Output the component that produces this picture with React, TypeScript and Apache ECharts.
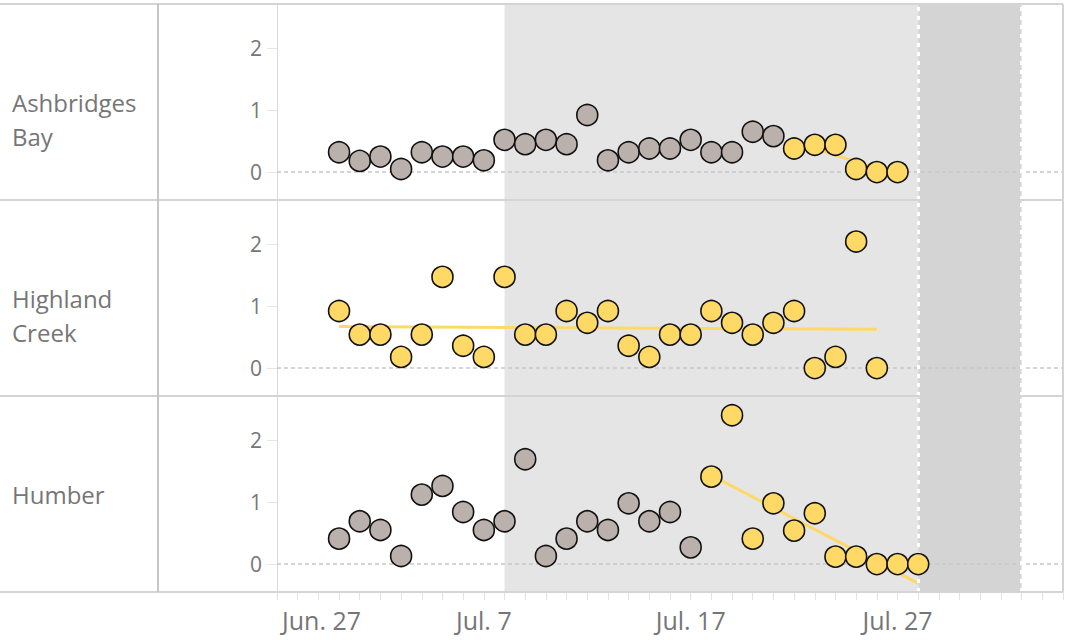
import React, { useEffect, useRef } from "react";
import * as echarts from "echarts";

// ---- data ----
const BASE_DATE = "2019-06-27";
const AXIS_END = "2019-08-04";
const tickDates = ["2019-06-27", "2019-07-07", "2019-07-17", "2019-07-27"];
const tickLabels = ["Jun. 27", "Jul. 7", "Jul. 17", "Jul. 27"];
const yTicks = [0, 1, 2];

const dates = [
  "2019-06-30", "2019-07-01", "2019-07-02", "2019-07-03", "2019-07-04", "2019-07-05",
  "2019-07-06", "2019-07-07", "2019-07-08", "2019-07-09", "2019-07-10", "2019-07-11",
  "2019-07-12", "2019-07-13", "2019-07-14", "2019-07-15", "2019-07-16", "2019-07-17",
  "2019-07-18", "2019-07-19", "2019-07-20", "2019-07-21", "2019-07-22", "2019-07-23",
  "2019-07-24", "2019-07-25", "2019-07-26", "2019-07-27", "2019-07-28",
];

const siteNames = ["Ashbridges\nBay", "Highland\nCreek", "Humber"];

const ashbridgesValues = [
  0.32, 0.18, 0.25, 0.05, 0.32, 0.25, 0.25, 0.19, 0.52, 0.45, 0.52, 0.45, 0.92, 0.19,
  0.32, 0.38, 0.38, 0.52, 0.32, 0.32, 0.65, 0.58, 0.38, 0.44, 0.44, 0.05, 0, 0, null,
];
const highlandValues = [
  0.92, 0.54, 0.54, 0.18, 0.54, 1.47, 0.36, 0.18, 1.47, 0.54, 0.54, 0.92, 0.73, 0.92,
  0.36, 0.18, 0.54, 0.54, 0.92, 0.73, 0.54, 0.73, 0.92, 0, 0.18, 2.04, 0, null, null,
];
const humberValues = [
  0.41, 0.69, 0.55, 0.13, 1.12, 1.26, 0.84, 0.55, 0.69, 1.69, 0.13, 0.41, 0.69, 0.55,
  0.98, 0.69, 0.84, 0.27, 1.41, 2.4, 0.41, 0.98, 0.54, 0.82, 0.12, 0.12, 0, 0, 0,
];

const highlightFrom = ["2019-07-22", "2019-06-30", "2019-07-18"];
const trendTo = ["2019-07-27", "2019-07-26", "2019-07-28"];
const trendStartValues = [0.48, 0.67, 1.43];
const trendEndValues = [-0.04, 0.625, -0.31];

const lightBand = ["2019-07-08", "2019-07-28"];
const darkBand = ["2019-07-28", "2019-08-02"];

// ---- styling / layout ----
const W = 1067;
const H = 640;
const PLOT_LEFT = 277;
const PLOT_RIGHT = 1063;
const PANEL_TOP = 4;
const PANEL_H = 196;
const Y_MIN = -0.45;
const Y_MAX = 2.71;
const GRAY = "#bab0ac";
const YELLOW = "#ffd966";
const BORDER = "#d4d4d4";
const TEXT = "#767676";
const FONT = "'Open Sans', 'Noto Sans', sans-serif";

const day = (s: string) =>
  Math.round((Date.parse(s) - Date.parse(BASE_DATE)) / 86400000);

export default function App() {
  const ref = useRef<HTMLDivElement>(null);

  useEffect(() => {
    if (!ref.current) return;
    const chart = echarts.init(ref.current, undefined, { renderer: "svg" });
    const seriesValues = [ashbridgesValues, highlandValues, humberValues];
    const maxDay = day(AXIS_END);
    const allDays: number[] = [];
    for (let d = 0; d <= maxDay; d++) allDays.push(d);
    const labelDays = tickDates.map(day);

    const grid = siteNames.map((_, i) => ({
      left: PLOT_LEFT,
      right: W - PLOT_RIGHT,
      top: PANEL_TOP + PANEL_H * i,
      height: PANEL_H,
    }));

    const xAxis = siteNames.map((_, i) => ({
      type: "value",
      gridIndex: i,
      min: 0,
      max: maxDay,
      show: i === siteNames.length - 1,
      position: "bottom",
      splitLine: { show: false },
      axisLine: { show: true, onZero: false, lineStyle: { color: BORDER, width: 2 } },
      axisTick: {
        show: true,
        customValues: allDays,
        length: 8,
        lineStyle: { color: "#e2e2e2", width: 1 },
      },
      axisLabel: {
        customValues: labelDays,
        formatter: (v: number) => {
          const k = labelDays.indexOf(Math.round(v));
          if (k < 0) return "";
          return k === 0 ? "{first|" + tickLabels[k] + "}" : tickLabels[k];
        },
        rich: {
          first: {
            color: TEXT,
            fontSize: 25,
            fontFamily: FONT,
            padding: [0, 0, 0, 5],
          },
        },
        alignMinLabel: "left",
        hideOverlap: false,
        color: TEXT,
        fontSize: 25,
        fontFamily: FONT,
        margin: 15,
      },
    }));

    const yAxis = siteNames.map((_, i) => ({
      type: "value",
      gridIndex: i,
      min: Y_MIN,
      max: Y_MAX,
      splitLine: { show: false },
      axisLine: { show: true, onZero: false, lineStyle: { color: "#d9d9d9", width: 1 } },
      axisTick: {
        show: true,
        customValues: yTicks,
        length: 10,
        lineStyle: { color: "#e6e6e6", width: 1 },
      },
      axisLabel: {
        customValues: yTicks,
        color: TEXT,
        fontSize: 21,
        fontFamily: FONT,
        margin: 15,
      },
    }));

    const series: any[] = [];
    siteNames.forEach((_, i) => {
      const vals = seriesValues[i];
      const hl = day(highlightFrom[i]);
      const gray: number[][] = [];
      const yellow: number[][] = [];
      dates.forEach((d, k) => {
        const v = vals[k];
        if (v === null || v === undefined) return;
        const x = day(d);
        (x >= hl ? yellow : gray).push([x, v]);
      });

      // background bands + reference lines
      series.push({
        type: "line",
        xAxisIndex: i,
        yAxisIndex: i,
        data: [],
        z: 1,
        silent: true,
        markArea: {
          silent: true,
          data: [
            [
              { xAxis: day(lightBand[0]), itemStyle: { color: "#e5e5e5" } },
              { xAxis: day(lightBand[1]) },
            ],
            [
              { xAxis: day(darkBand[0]), itemStyle: { color: "#d4d4d4" } },
              { xAxis: day(darkBand[1]) },
            ],
          ],
        },
        markLine: {
          silent: true,
          symbol: "none",
          label: { show: false },
          data: [
            {
              yAxis: 0,
              lineStyle: { color: "#c8c8c8", type: [4, 3], width: 1.5 },
            },
            {
              xAxis: day(darkBand[0]),
              lineStyle: { color: "#ffffff", type: [4, 5], width: 3 },
            },
            {
              xAxis: day(darkBand[1]),
              lineStyle: { color: "#ffffff", type: [4, 5], width: 3 },
            },
          ],
        },
      });

      // trend line
      series.push({
        type: "line",
        xAxisIndex: i,
        yAxisIndex: i,
        z: 3,
        symbol: "none",
        silent: true,
        lineStyle: { color: YELLOW, width: 3 },
        data: [
          [day(highlightFrom[i]), trendStartValues[i]],
          [day(trendTo[i]), trendEndValues[i]],
        ],
      });

      const pointStyle = (c: string) => ({
        color: c,
        borderColor: "#111111",
        borderWidth: 1.6,
        opacity: 1,
      });
      series.push({
        type: "scatter",
        xAxisIndex: i,
        yAxisIndex: i,
        z: 5,
        symbolSize: 21,
        itemStyle: pointStyle(GRAY),
        data: gray,
      });
      series.push({
        type: "scatter",
        xAxisIndex: i,
        yAxisIndex: i,
        z: 5,
        symbolSize: 21,
        itemStyle: pointStyle(YELLOW),
        data: yellow,
      });
    });

    const bottom = PANEL_TOP + PANEL_H * siteNames.length;
    const graphic: any[] = [];
    // horizontal borders
    for (let k = 0; k <= siteNames.length; k++) {
      graphic.push({
        type: "rect",
        z: 100,
        silent: true,
        shape: { x: 0, y: PANEL_TOP + PANEL_H * k - 1, width: PLOT_RIGHT, height: 2 },
        style: { fill: BORDER },
      });
    }
    // vertical borders
    graphic.push({
      type: "rect",
      z: 100,
      silent: true,
      shape: { x: 157, y: PANEL_TOP, width: 2, height: bottom - PANEL_TOP },
      style: { fill: "#c6c6c6" },
    });
    graphic.push({
      type: "rect",
      z: 100,
      silent: true,
      shape: { x: PLOT_RIGHT - 1, y: PANEL_TOP, width: 2, height: bottom - PANEL_TOP },
      style: { fill: BORDER },
    });
    // row labels
    siteNames.forEach((name, i) => {
      const center = PANEL_TOP + PANEL_H * i + PANEL_H / 2;
      graphic.push({
        type: "text",
        z: 100,
        silent: true,
        x: 12,
        y: center - 17,
        style: {
          text: name,
          fill: TEXT,
          fontSize: 24,
          fontFamily: FONT,
          lineHeight: 34,
          verticalAlign: "top",
          align: "left",
        },
      });
    });

    chart.setOption({
      animation: false,
      backgroundColor: "#ffffff",
      grid,
      xAxis,
      yAxis,
      series,
      graphic,
    });

    return () => chart.dispose();
  }, []);

  return (
    <div
      ref={ref}
      style={{ position: "fixed", left: 0, top: 0, width: W, height: H }}
    />
  );
}
